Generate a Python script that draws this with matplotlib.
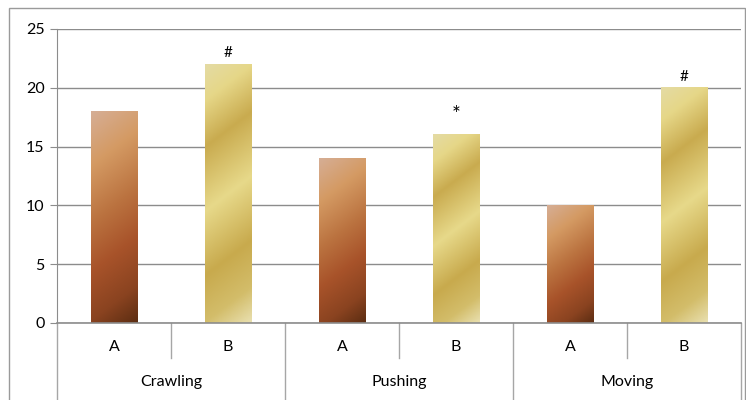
import matplotlib
matplotlib.use('agg')
import matplotlib.pyplot as plt
from matplotlib.colors import LinearSegmentedColormap
from matplotlib.patches import Rectangle
import numpy as np

# data
groups = ["Crawling", "Pushing", "Moving"]
sub_labels = ["A", "B"]
values_a = [18, 14, 10]
values_b = [22, 16, 20]
marks_b = ["#", "*", "#"]

plt.rcParams['font.family'] = ['Lato', 'DejaVu Sans']

brown = LinearSegmentedColormap.from_list("brown", [
    (0.0, "#d6ae95"), (0.22, "#d49a63"), (0.45, "#bb7340"),
    (0.65, "#a8532a"), (0.85, "#8a4320"), (1.0, "#5c2d12")])
gold = LinearSegmentedColormap.from_list("gold", [
    (0.0, "#e4dba4"), (0.12, "#e6d788"), (0.28, "#c9ab4f"),
    (0.5, "#e7d98a"), (0.72, "#c8aa4d"), (0.88, "#d3bd6a"), (1.0, "#e9e0b0")])

fig = plt.figure(figsize=(7.46, 4.0), dpi=100)
ax = fig.add_axes([57/746, 77/400, 684/746, 294/400])

# outer chart border
fig.patches.append(Rectangle((9/746, -0.1), 736/746, 1.1 - 8/400, transform=fig.transFigure,
                             fill=False, edgecolor="#9a9a9a", lw=1.0))

ax.set_xlim(-0.5, 5.5)
ax.set_ylim(0, 25)
ax.set_yticks([0, 5, 10, 15, 20, 25])
ax.yaxis.grid(True, color="#8c8c8c", lw=1.0)
ax.set_axisbelow(True)
for s in ["top", "right", "bottom"]:
    ax.spines[s].set_visible(False)
ax.spines["left"].set_color("#8c8c8c")
ax.tick_params(axis="y", length=5, color="#8c8c8c", labelsize=11.5, pad=4)
ax.set_xticks([])

fig.canvas.draw()
px_per_x = ax.transData.transform((1, 0))[0] - ax.transData.transform((0, 0))[0]
px_per_y = ax.transData.transform((0, 1))[1] - ax.transData.transform((0, 0))[1]

bar_w = 0.41


def grad_bar(xc, h, cmap):
    x0, x1 = xc - bar_w / 2, xc + bar_w / 2
    wpx, hpx = bar_w * px_per_x, h * px_per_y
    nx, ny = 60, 300
    xx, yy = np.meshgrid(np.linspace(0, wpx, nx), np.linspace(0, hpx, ny))
    t = 0.75 * xx + yy  # yy measured down from the top of the bar
    t = t / t.max()
    ax.imshow(t, cmap=cmap, extent=(x0, x1, 0, h), origin="upper",
              aspect="auto", interpolation="bilinear", zorder=2)


for i, g in enumerate(groups):
    xa, xb = 2 * i, 2 * i + 1
    grad_bar(xa, values_a[i], brown)
    grad_bar(xb, values_b[i], gold)
    if marks_b[i] == "*":
        ax.text(xb, values_b[i] + 1.7, marks_b[i], ha="center", va="center", fontsize=15)
    else:
        ax.text(xb, values_b[i] + 0.95, marks_b[i], ha="center", va="center", fontsize=11)
ax.set_xlim(-0.5, 5.5)
ax.set_ylim(0, 25)

# category axis
trans = ax.get_xaxis_transform()
ax.plot([-0.5, 5.5], [0, 0], color="#8c8c8c", lw=1.2, transform=trans, clip_on=False, zorder=3)
for k in range(7):
    xs = k - 0.5
    y_end = -0.262 if k % 2 == 0 else -0.119
    ax.plot([xs, xs], [0, y_end], color="#a6a6a6", lw=1.0, transform=trans, clip_on=False)
for k in range(6):
    ax.text(k, -0.082, sub_labels[k % 2], transform=trans, ha="center", va="center", fontsize=11.5)
for i, g in enumerate(groups):
    ax.text(2 * i + 0.5, -0.2, g, transform=trans, ha="center", va="center", fontsize=11.5)

fig.savefig("out.png", dpi=100)
